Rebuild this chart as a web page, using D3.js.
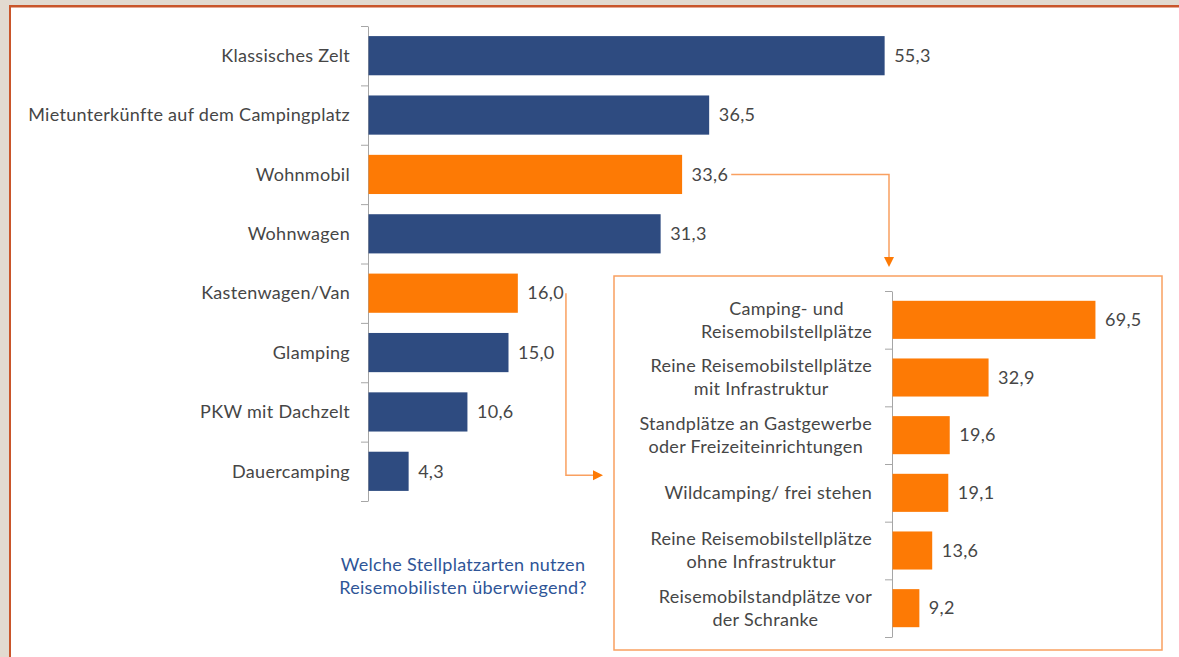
<!DOCTYPE html>
<html>
<head>
<meta charset="utf-8">
<script src="https://cdn.jsdelivr.net/npm/d3@7"></script>
<style>
  html, body { margin: 0; padding: 0; background: #e2dad0; }
  svg { display: block; }
  text { font-family: Lato, "Open Sans", sans-serif; letter-spacing: 0.3px; }
</style>
</head>
<body>
<svg id="chart" width="1179" height="657"></svg>
<script>
// main chart data
var categories = ['Klassisches Zelt', 'Mietunterkünfte auf dem Campingplatz', 'Wohnmobil',
  'Wohnwagen', 'Kastenwagen/Van', 'Glamping', 'PKW mit Dachzelt', 'Dauercamping'];
var values = [55.3, 36.5, 33.6, 31.3, 16.0, 15.0, 10.6, 4.3];
var highlighted = ['Wohnmobil', 'Kastenwagen/Van'];

// inset chart data
var insetLabels = [
  ['Camping- und', 'Reisemobilstellplätze'],
  ['Reine Reisemobilstellplätze', 'mit Infrastruktur'],
  ['Standplätze an Gastgewerbe', 'oder Freizeiteinrichtungen'],
  ['Wildcamping/ frei stehen'],
  ['Reine Reisemobilstellplätze', 'ohne Infrastruktur'],
  ['Reisemobilstandplätze vor', 'der Schranke']
];
var insetValues = [69.5, 32.9, 19.6, 19.1, 13.6, 9.2];

var question = ['Welche Stellplatzarten nutzen', 'Reisemobilisten überwiegend?'];

var navy = '#2e4b80';
var orange = '#fd7a05';
var lineOrange = '#f9a060';
var textGrey = '#464646';
var fs = 18;
var fmt = function(v) { return d3.format('.1f')(v).replace('.', ','); };

var svg = d3.select('#chart');

// frame
svg.append('rect')
  .attr('x', 10).attr('y', 6)
  .attr('width', 1200).attr('height', 700)
  .attr('fill', 'white');
svg.append('line')
  .attr('x1', 10).attr('x2', 1179).attr('y1', 6.2).attr('y2', 6.2)
  .attr('stroke', '#c9552a').attr('stroke-width', 2.5);
svg.append('line')
  .attr('x1', 10).attr('x2', 10).attr('y1', 5).attr('y2', 657)
  .attr('stroke', '#c9552a').attr('stroke-width', 2);

// ---------------- main chart ----------------
var x = d3.scaleLinear().domain([0, 60]).range([368, 368 + 560]);
var y = d3.scaleBand().domain(categories).range([26, 501])
  .paddingInner(0.34).paddingOuter(0.17);

var yTicks = d3.scaleLinear().domain([0, categories.length]).range([26, 501]);
var axisMain = svg.append('g')
  .attr('transform', 'translate(' + x(0) + ',0)')
  .call(d3.axisLeft(yTicks).ticks(categories.length).tickSize(7).tickFormat('').tickSizeOuter(0));
axisMain.selectAll('path, line').attr('stroke', '#a6a6a6');

var mainData = categories.map(function(c, i) { return {cat: c, value: values[i]}; });

svg.append('g').selectAll('rect')
  .data(mainData)
  .join('rect')
  .attr('x', x(0) + 0.5)
  .attr('y', function(d) { return y(d.cat); })
  .attr('width', function(d) { return x(d.value) - x(0); })
  .attr('height', y.bandwidth())
  .attr('fill', function(d) { return highlighted.indexOf(d.cat) >= 0 ? orange : navy; });

svg.append('g').selectAll('text')
  .data(mainData)
  .join('text')
  .attr('x', 350)
  .attr('y', function(d) { return y(d.cat) + y.bandwidth() / 2; })
  .attr('dy', '0.35em')
  .attr('text-anchor', 'end')
  .attr('font-size', fs)
  .attr('fill', textGrey)
  .text(function(d) { return d.cat; });

var valueLabels = svg.append('g').selectAll('text')
  .data(mainData)
  .join('text')
  .attr('x', function(d) { return x(d.value) + 10; })
  .attr('y', function(d) { return y(d.cat) + y.bandwidth() / 2; })
  .attr('dy', '0.35em')
  .attr('font-size', fs)
  .attr('fill', textGrey)
  .text(function(d) { return fmt(d.value); });

// question text
svg.append('g').selectAll('text')
  .data(question)
  .join('text')
  .attr('x', 463)
  .attr('y', function(d, i) { return 565 + i * 23; })
  .attr('dy', '0.35em')
  .attr('text-anchor', 'middle')
  .attr('font-size', fs)
  .attr('letter-spacing', 0.6)
  .attr('fill', '#2f5597')
  .text(function(d) { return d; });

// ---------------- inset ----------------
var box = {x: 614, y: 276, w: 548, h: 374};
svg.append('rect')
  .attr('x', box.x).attr('y', box.y)
  .attr('width', box.w).attr('height', box.h)
  .attr('fill', 'white')
  .attr('stroke', lineOrange).attr('stroke-width', 1.5);

var x2 = d3.scaleLinear().domain([0, 70]).range([892, 892 + 204.4]);
var y2 = d3.scaleBand().domain(d3.range(insetValues.length)).range([291, 637])
  .paddingInner(0.34).paddingOuter(0.17);
var y2Ticks = d3.scaleLinear().domain([0, insetValues.length]).range([291, 637]);

var axisInset = svg.append('g')
  .attr('transform', 'translate(' + x2(0) + ',0)')
  .call(d3.axisLeft(y2Ticks).ticks(insetValues.length).tickSize(7).tickFormat('').tickSizeOuter(0));
axisInset.selectAll('path, line').attr('stroke', '#a6a6a6');

var insetData = insetValues.map(function(v, i) { return {i: i, value: v, lines: insetLabels[i]}; });

svg.append('g').selectAll('rect')
  .data(insetData)
  .join('rect')
  .attr('x', x2(0) + 0.5)
  .attr('y', function(d) { return y2(d.i); })
  .attr('width', function(d) { return x2(d.value) - x2(0); })
  .attr('height', y2.bandwidth())
  .attr('fill', orange);

svg.append('g').selectAll('text')
  .data(insetData)
  .join('text')
  .attr('x', function(d) { return x2(d.value) + 10; })
  .attr('y', function(d) { return y2(d.i) + y2.bandwidth() / 2; })
  .attr('dy', '0.35em')
  .attr('font-size', fs)
  .attr('fill', textGrey)
  .text(function(d) { return fmt(d.value); });

// multi-line labels: block right-aligned, lines centred within block
var labelRight = 872;
svg.append('g').selectAll('g')
  .data(insetData)
  .join('g')
  .each(function(d) {
    var g = d3.select(this);
    var cy = y2(d.i) + y2.bandwidth() / 2;
    var n = d.lines.length;
    var t = g.selectAll('text')
      .data(d.lines)
      .join('text')
      .attr('y', function(l, k) { return cy + (k - (n - 1) / 2) * 23; })
      .attr('dy', '0.35em')
      .attr('text-anchor', 'middle')
      .attr('font-size', fs)
      .attr('fill', textGrey)
      .text(function(l) { return l; });
    var maxW = 0;
    t.each(function() { maxW = Math.max(maxW, this.getComputedTextLength()); });
    t.attr('x', labelRight - maxW / 2);
  });

// ---------------- connectors ----------------
var conn = svg.append('g')
  .attr('fill', 'none')
  .attr('stroke', lineOrange)
  .attr('stroke-width', 1.5);

var lblNodes = valueLabels.nodes();
var wohnmobilEnd = x(values[2]) + 10 + lblNodes[2].getComputedTextLength() + 3;
var wohnmobilY = y(categories[2]) + y.bandwidth() / 2;
var arrowX = x2(0) - 3;
conn.append('path')
  .attr('d', 'M' + wohnmobilEnd + ',' + wohnmobilY + 'H' + arrowX + 'V' + (box.y - 18));
svg.append('path')
  .attr('d', 'M' + (arrowX - 5) + ',' + (box.y - 19) + 'L' + (arrowX + 5) + ',' + (box.y - 19) +
    'L' + arrowX + ',' + (box.y - 9) + 'Z')
  .attr('fill', orange);

var kastenEnd = x(values[4]) + 10 + lblNodes[4].getComputedTextLength() + 2;
var kastenY = y(categories[4]) + y.bandwidth() / 2;
var bottomY = y(categories[7]) + y.bandwidth() / 2 + 4;
conn.append('path')
  .attr('d', 'M' + kastenEnd + ',' + kastenY + 'V' + bottomY + 'H' + (box.x - 20));
svg.append('path')
  .attr('d', 'M' + (box.x - 21) + ',' + (bottomY - 5) + 'L' + (box.x - 21) + ',' + (bottomY + 5) +
    'L' + (box.x - 11) + ',' + bottomY + 'Z')
  .attr('fill', orange);
</script>
</body>
</html>
